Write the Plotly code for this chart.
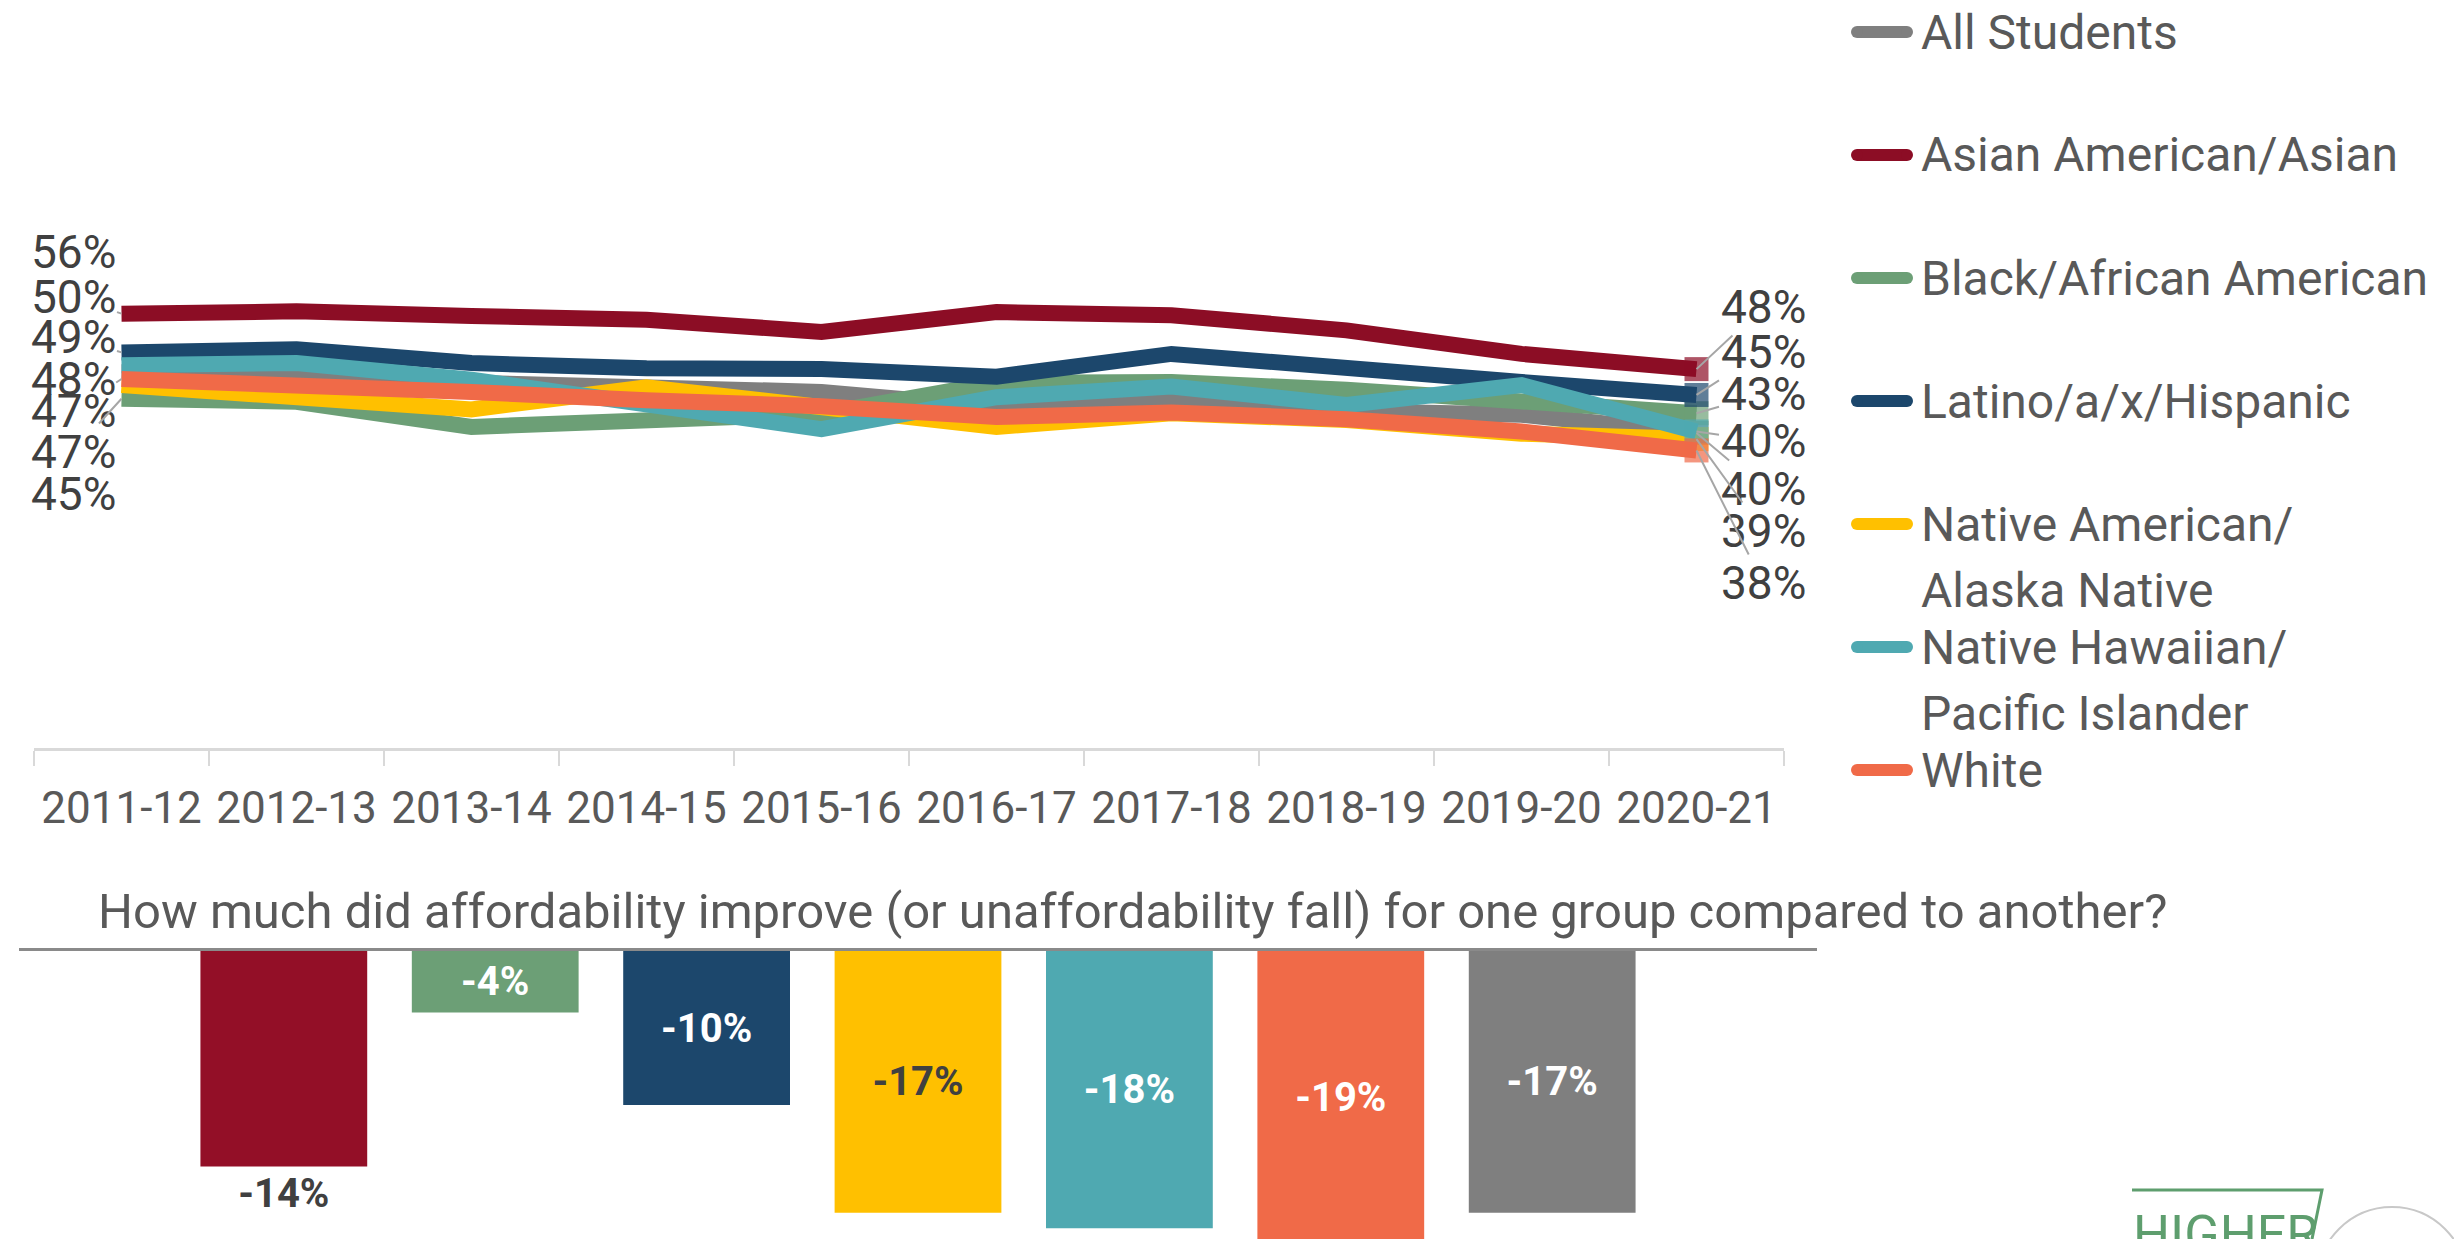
import plotly.graph_objects as go

# ---------------- data ----------------
years = ["2011-12", "2012-13", "2013-14", "2014-15", "2015-16",
         "2016-17", "2017-18", "2018-19", "2019-20", "2020-21"]

series_names = ["All Students", "Asian American/Asian", "Black/African American",
                "Latino/a/x/Hispanic", "Native American/<br>Alaska Native",
                "Native Hawaiian/<br>Pacific Islander", "White"]
series_colors = ["#7F7F7F", "#8C0D25", "#6C9F76", "#1C476C", "#FFC000", "#4FA9B1", "#F06A48"]

all_students = [48.4, 48.3, 47.0, 46.3, 45.8, 43.8, 44.7, 43.3, 42.8, 40.4]
asian = [56.1, 56.4, 55.8, 55.3, 53.7, 56.3, 55.9, 53.9, 50.8, 48.8]
black = [44.9, 44.5, 41.2, 41.8, 42.9, 47.0, 47.1, 46.1, 44.8, 43.0]
latino = [51.0, 51.4, 49.6, 48.9, 48.8, 47.8, 50.8, 49.2, 47.1, 45.4]
native_american = [46.7, 45.0, 43.5, 46.4, 43.9, 41.2, 43.0, 42.1, 40.3, 39.6]
nhpi = [49.3, 49.6, 47.4, 43.9, 40.9, 45.1, 46.5, 44.1, 46.7, 40.6]
white = [47.5, 46.9, 45.8, 44.7, 43.9, 42.5, 43.1, 42.2, 40.6, 38.1]
series_values = [all_students, asian, black, latino, native_american, nhpi, white]

# data labels (text shown at first / last year), top-to-bottom, with the series index they belong to
start_labels = ["56%", "50%", "49%", "48%", "47%", "47%", "45%"]
start_label_series = [0, 1, 3, 5, 6, 2, 4]
end_labels = ["48%", "45%", "43%", "40%", "40%", "39%", "38%"]
end_label_series = [1, 3, 2, 5, 0, 4, 6]

bar_groups = ["Asian American/Asian", "Black/African American", "Latino/a/x/Hispanic",
              "Native American/Alaska Native", "Native Hawaiian/Pacific Islander",
              "White", "All Students"]
bar_changes = [-14, -4, -10, -17, -18, -19, -17]
bar_colors = ["#930F27", "#6C9F76", "#1C476C", "#FFC000", "#4FA9B1", "#F06A48", "#7F7F7F"]

bar_title = "How much did affordability improve (or unaffordability fall) for one group compared to another?"

# ---------------- layout constants (pixels) ----------------
W, H = 2454, 1239
FONT = "Roboto"
TOP_X0, TOP_X1 = 34, 1784
TOP_YT, TOP_YB = 60, 748
ZERO_PX, PX_PER = 740, 7.6          # y pixel of 0 % and pixels per percentage point
BAR_X0, BAR_X1 = 19, 1817
BAR_TOP = 951
BAR_PX_PER = 15.4


def px_x(i):
    return TOP_X0 + (i + 0.5) * (TOP_X1 - TOP_X0) / len(years)


def px_y(v):
    return ZERO_PX - PX_PER * v


def px(xp):
    return xp / W


def py(yp):
    return 1 - yp / H


fig = go.Figure()

# line traces
n = len(years)
for name, col, vals in zip(series_names, series_colors, series_values):
    fig.add_trace(go.Scatter(
        x=years, y=vals, name=name.replace("<br>", " "), mode="lines+markers",
        line=dict(color=col, width=16),
        marker=dict(symbol="square", size=[0] * (n - 1) + [24], color=col,
                    line=dict(width=0)),
        xaxis="x", yaxis="y", hoverinfo="skip"))

# bar traces
for name, col, val in zip(bar_groups, bar_colors, bar_changes):
    is_asian = name.startswith("Asian")
    txtcol = "#404040" if (is_asian or col == "#FFC000") else "white"
    fig.add_trace(go.Bar(
        x=["change"], y=[val], name=name, marker=dict(color=col, line=dict(width=0)),
        texttemplate="<b>%{y:.0f}%</b>",
        textposition="outside" if is_asian else "inside",
        insidetextanchor="middle", constraintext="none", textangle=0,
        textfont=dict(family=FONT, size=40, color=txtcol),
        xaxis="x2", yaxis="y2", hoverinfo="skip"))

annotations = []
shapes = []

# start data labels with leader lines
start_centers = [252, 297, 337, 379, 411, 452, 494]
start_leader = [False, True, True, False, True, True, False]
for txt, si, cy, lead in zip(start_labels, start_label_series, start_centers, start_leader):
    v = series_values[si][0]
    annotations.append(dict(
        x=years[0], y=v, xref="x", yref="y", text=txt, showarrow=True,
        arrowhead=0, arrowwidth=2, standoff=0,
        arrowcolor="#A6A6A6" if lead else "rgba(0,0,0,0)",
        ax=73 - px_x(0), ay=cy - px_y(v),
        font=dict(family=FONT, size=46, color="#404040")))

# end data labels with leader lines
end_centers = [307, 352, 394, 441, 489, 531, 583]
for txt, si, cy in zip(end_labels, end_label_series, end_centers):
    v = series_values[si][-1]
    annotations.append(dict(
        x=years[-1], y=v, xref="x", yref="y", text=txt, showarrow=True,
        arrowhead=0, arrowwidth=2, standoff=0, arrowcolor="#A6A6A6",
        ax=1763 - px_x(n - 1), ay=cy - px_y(v),
        font=dict(family=FONT, size=46, color="#404040")))

# manual legend
LEG_Y0, LEG_DY = 32, 123
for i, (name, col) in enumerate(zip(series_names, series_colors)):
    yc = LEG_Y0 + i * LEG_DY
    shapes.append(dict(type="line", xref="paper", yref="paper",
                       x0=px(1857), x1=px(1907), y0=py(yc), y1=py(yc),
                       line=dict(color=col, width=12)))
    for cx in (1857, 1907):
        shapes.append(dict(type="circle", xref="paper", yref="paper",
                           xsizemode="pixel", ysizemode="pixel",
                           xanchor=px(cx), yanchor=py(yc),
                           x0=-6, x1=6, y0=-6, y1=6,
                           fillcolor=col, line=dict(width=0)))
    for k, part in enumerate(name.split("<br>")):
        annotations.append(dict(
            x=px(1919), y=py(yc + k * 66), xref="paper", yref="paper",
            xanchor="left", yanchor="middle", text=part, showarrow=False,
            font=dict(family=FONT, size=48, color="#595959")))

# bar chart title
annotations.append(dict(
    x=px(1132), y=py(911), xref="paper", yref="paper", xanchor="center",
    yanchor="middle", text=bar_title, showarrow=False,
    font=dict(family=FONT, size=49, color="#595959")))

# logo fragment (bottom right)
annotations.append(dict(
    x=px(2131), y=py(1202), xref="paper", yref="paper", xanchor="left",
    yanchor="top", text="HIGHER", showarrow=False,
    font=dict(family=FONT, size=52, color="#5E9E6E")))
shapes.append(dict(type="path", xref="paper", yref="paper",
                   path=f"M {px(2132)},{py(1190)} L {px(2322)},{py(1190)} L {px(2312)},{py(1239)}",
                   line=dict(color="#5E9E6E", width=3)))
shapes.append(dict(type="circle", xref="paper", yref="paper",
                   xsizemode="pixel", ysizemode="pixel",
                   xanchor=px(2392), yanchor=py(1282),
                   x0=-75, x1=75, y0=-75, y1=75,
                   line=dict(color="#C8C8C8", width=2)))

fig.update_layout(
    width=W, height=H, margin=dict(l=0, r=0, t=0, b=0, pad=0),
    showlegend=False, plot_bgcolor="white", paper_bgcolor="white",
    barmode="group", bargap=0.177, bargroupgap=0.211,
    xaxis=dict(domain=[px(TOP_X0), px(TOP_X1)], anchor="y", type="category",
               range=[-0.5, n - 0.5], autorange=False,
               showline=True, linecolor="#D9D9D9", linewidth=3,
               ticks="outside", tickson="boundaries", ticklen=15,
               tickcolor="#D9D9D9", tickwidth=2, showgrid=False, zeroline=False,
               tickfont=dict(family=FONT, size=44, color="#595959"),
               ticklabelstandoff=19),
    yaxis=dict(domain=[py(TOP_YB), py(TOP_YT)], anchor="x",
               range=[(ZERO_PX - TOP_YB) / PX_PER, (ZERO_PX - TOP_YT) / PX_PER],
               autorange=False, visible=False),
    xaxis2=dict(domain=[px(BAR_X0), px(BAR_X1)], anchor="y2", type="category",
                side="top", range=[-0.5, 0.5], autorange=False, showline=True,
                linecolor="#8A8A8A", linewidth=3, ticks="inside",
                tickson="boundaries", ticklen=15, tickcolor="#8A8A8A", tickwidth=2,
                showticklabels=False, showgrid=False, zeroline=False),
    yaxis2=dict(domain=[0, py(BAR_TOP)], anchor="x2",
                range=[-(H - BAR_TOP) / BAR_PX_PER, 0], autorange=False,
                visible=False),
    annotations=annotations, shapes=shapes,
)

fig.write_html("out.html", config={"displayModeBar": False},
               post_script="document.body.style.margin='0';document.body.style.padding='0';document.body.style.overflow='hidden';")
